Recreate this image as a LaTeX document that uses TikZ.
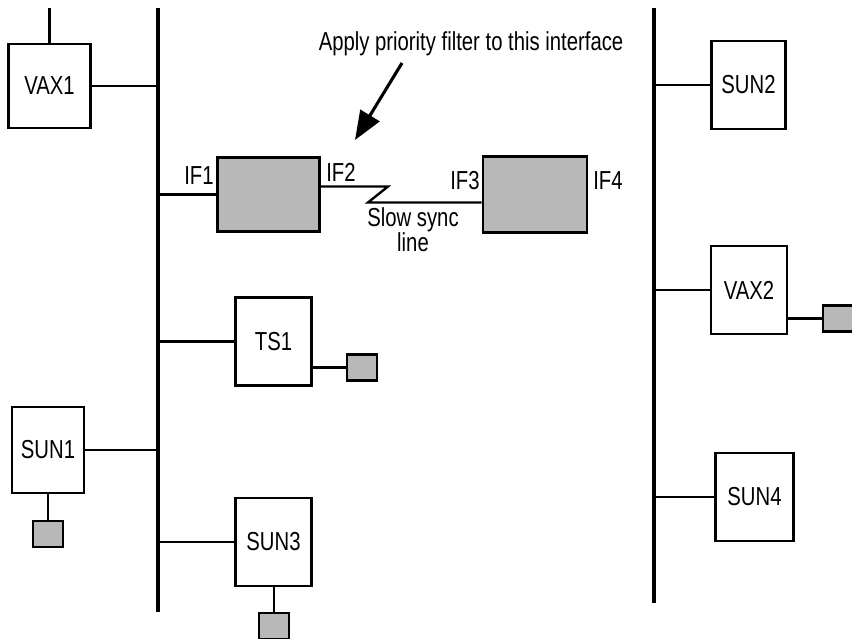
\documentclass[tikz,border=0pt]{standalone}
\usepackage{fontspec}
\setmainfont[FakeStretch=0.78]{Liberation Sans}
\usetikzlibrary{arrows.meta}

\begin{document}
\begin{tikzpicture}[
  x=0.025cm, y=-0.025cm,
  every node/.style={font=\fontsize{18.5}{17.5}\selectfont},
  host/.style={rectangle, draw=black, line width=2pt, fill=white, inner sep=0pt,
               minimum width=1.9cm, minimum height=2.2cm},
  router/.style={host, fill=black!28, minimum width=2.55cm, minimum height=1.85cm},
  term/.style={rectangle, draw=black, line width=2pt, fill=black!28, inner sep=0pt,
               minimum width=0.75cm, minimum height=0.65cm},
  bus/.style={line width=2.4pt},
  link/.style={line width=1.7pt},
  pointer/.style={-{Triangle[length=0.72cm, width=0.55cm]}, line width=2.2pt}
]
\useasboundingbox (0,0) rectangle (852,638);
\clip (0,0) rectangle (852,638);

% the two ethernet segments
\coordinate (lbustop) at (158,8);
\coordinate (lbusbot) at (158,612);
\coordinate (rbustop) at (654,8);
\coordinate (rbusbot) at (654,603);
\draw[bus] (lbustop) -- (lbusbot);
\draw[bus] (rbustop) -- (rbusbot);

% hosts
\node[host, minimum width=2.03cm, minimum height=2.1cm] (vaxa) at (49.5,86) {VAX1};
\node[host, minimum width=1.8cm, minimum height=2.15cm] (suna) at (48,450) {SUN1};
\node[host] (ts) at (273.5,341.5) {TS1};
\node[host] (sunc) at (273.5,542) {SUN3};
\node[host, minimum width=1.85cm] (sunb) at (748.5,85) {SUN2};
\node[host] (vaxb) at (749,290) {VAX2};
\node[host, minimum width=1.93cm] (sund) at (754.5,497) {SUN4};

% routers
\node[router] (rta) at (268.5,194.5) {};
\node[router, minimum width=2.6cm, minimum height=1.88cm] (rtb) at (535,194.5) {};

% terminals
\node[term] (tts) at (362,367.5) {};
\node[term] (tvaxb) at (838,318.5) {};
\node[term] (tsuna) at (48,534) {};
\node[term] (tsunc) at (274,626) {};

% interface labels
\node (lifa) at (199,176) {IF1};
\node (lifb) at (341,172) {IF2};
\node (lifc) at (465,181) {IF3};
\node (lifd) at (608,181) {IF4};
\node[align=center] (lslow) at (413,230) {Slow sync\\line};
\node[anchor=base] (lnote) at (471,50) {Apply priority filter to this interface};

% links to the segments
\coordinate (vaxup) at (49.5,8);
\draw[link] (vaxa) -- (vaxup);
\draw[link] (vaxa.east) -- (vaxa.east -| lbustop);
\draw[link] (suna.east) -- (suna.east -| lbustop);
\draw[link] (rta.west) -- (rta.west -| lbustop);
\draw[link] (ts.west) -- (ts.west -| lbustop);
\draw[link] (sunc.west) -- (sunc.west -| lbustop);
\draw[link] (sunb.west) -- (sunb.west -| rbustop);
\draw[link] (vaxb.west) -- (vaxb.west -| rbustop);
\draw[link] (sund.west) -- (sund.west -| rbustop);

% serial line
\coordinate (zigtop) at (388,186.5);
\coordinate (zigbot) at (368,202.5);
\draw[link] (zigtop -| rta.east) -- (zigtop) -- (zigbot) -- (zigbot -| rtb.west);

% terminal links
\draw[link] (tts.west) -- (tts.west -| ts.east);
\draw[link] (tvaxb.west) -- (tvaxb.west -| vaxb.east);
\draw[link] (tsuna.north) -- (tsuna.north |- suna.south);
\draw[link] (tsunc.north) -- (tsunc.north |- sunc.south);

% pointer
\coordinate (ptrfrom) at (402,63);
\coordinate (ptrto) at (355,140);
\draw[pointer] (ptrfrom) -- (ptrto);

\end{tikzpicture}
\end{document}
